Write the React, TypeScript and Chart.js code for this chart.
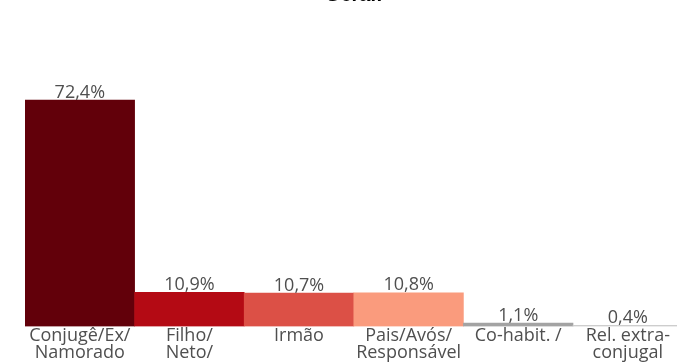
import React, { useEffect, useRef } from "react";
import { Chart, registerables } from "chart.js";

Chart.register(...registerables);

const TITLE = "Geral:";
const categories: string[][] = [
  ["Conjugê/Ex/", "Namorado"],
  ["Filho/", "Neto/"],
  ["Irmão"],
  ["Pais/Avós/", "Responsável"],
  ["Co-habit. /"],
  ["Rel. extra-", "conjugal"],
];
const values: number[] = [72.4, 10.9, 10.7, 10.8, 1.1, 0.4];
const barColors: string[] = ["#62000a", "#b40a14", "#dc5046", "#fa9b7d", "#a3a3a3", "#cdcdcd"];

const TEXT_COLOR = "#4f4f4f";
const FONT_FAMILY = "'Open Sans', sans-serif";

const formatPct = (v: number) => v.toFixed(1).replace(".", ",") + "%";

// Writes each value just above the top of its bar
const valueLabels = {
  id: "valueLabels",
  afterDatasetsDraw(chart: any) {
    const { ctx } = chart;
    const meta = chart.getDatasetMeta(0);
    const data = chart.data.datasets[0].data as number[];
    ctx.save();
    ctx.font = `18px ${FONT_FAMILY}`;
    ctx.fillStyle = TEXT_COLOR;
    ctx.textAlign = "center";
    ctx.textBaseline = "alphabetic";
    meta.data.forEach((bar: any, i: number) => {
      ctx.fillText(formatPct(data[i]), bar.x, bar.y - 2.5);
    });
    ctx.restore();
  },
};

export default function App() {
  const canvasRef = useRef<HTMLCanvasElement | null>(null);

  useEffect(() => {
    if (!canvasRef.current) return;
    const chart = new Chart(canvasRef.current, {
      type: "bar",
      data: {
        labels: categories,
        datasets: [
          {
            data: values,
            backgroundColor: barColors,
            borderWidth: 0,
            categoryPercentage: 1,
            barPercentage: 1,
          },
        ],
      },
      options: {
        animation: false,
        responsive: false,
        devicePixelRatio: 1,
        layout: { padding: { left: 25, right: 37.4, top: 0, bottom: 0 } },
        plugins: {
          legend: { display: false },
          tooltip: { enabled: false },
          title: {
            display: true,
            text: TITLE,
            color: "#000",
            font: { family: "'Liberation Sans', Arial, sans-serif", size: 20, lineHeight: 1.2 },
            padding: { top: 0, bottom: 69.4 },
          },
        },
        scales: {
          x: {
            grid: { display: false, drawTicks: false },
            border: { display: false },
            ticks: {
              color: TEXT_COLOR,
              font: { family: FONT_FAMILY, size: 18, lineHeight: 0.93 },
              padding: 1,
              maxRotation: 0,
              autoSkip: false,
            },
          },
          y: {
            display: false,
            min: 0,
            max: 80,
          },
        },
      },
      plugins: [valueLabels],
    });
    return () => chart.destroy();
  }, []);

  return (
    <div
      style={{
        position: "fixed",
        left: 0,
        top: 0,
        width: 677,
        height: 363,
        overflow: "hidden",
        background: "#fff",
      }}
    >
      <canvas
        ref={canvasRef}
        width={720}
        height={379}
        style={{ position: "absolute", left: 0, top: -17, width: 720, height: 379 }}
      />
    </div>
  );
}
